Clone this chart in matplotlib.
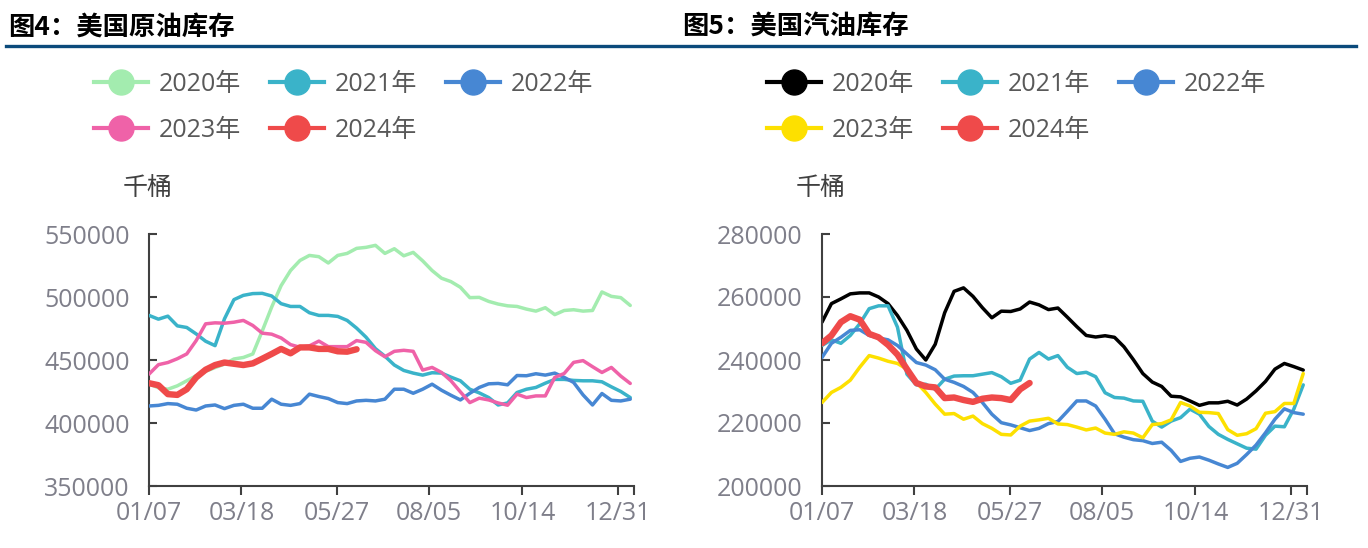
import numpy as np
import matplotlib
matplotlib.use("Agg")
import matplotlib.pyplot as plt
from matplotlib.lines import Line2D

plt.rcParams['font.family'] = ['Open Sans', 'Noto Sans CJK SC', 'DejaVu Sans']
CJK = ['Noto Sans CJK SC', 'DejaVu Sans']

# ---------------- data ----------------
x_tick_labels = ['01/07', '03/18', '05/27', '08/05', '10/14', '12/31']
years = ['2020年', '2021年', '2022年', '2023年', '2024年']

crude_2020 = [431, 428, 426.8, 429.5, 433.5, 437.5, 441, 444, 446.8, 450.8,
              452, 454.8, 473, 492, 509, 521, 529, 533, 532, 527,
              533, 534.6, 538.6, 539.4, 541, 534.6, 538.3, 532.7, 535.4, 528.7,
              521, 514.9, 512.2, 507.7, 499.5, 499.7, 496.5, 494.4, 493, 492.5,
              490.4, 488.8, 491.5, 486, 489.3, 489.9, 488.8, 489.3, 504, 500.5,
              499.5, 493.3]
crude_2021 = [485.4, 482.4, 484.8, 477.1, 475.8, 470.7, 464.9, 461.4, 482.7, 497.9,
              501.3, 502.7, 502.9, 500.8, 494.7, 492.5, 492.5, 487.5, 485.4, 485.4,
              484.6, 481.4, 475.3, 468.1, 459, 453, 446, 441.7, 439.6, 438,
              439.9, 439.6, 436.4, 433.5, 426.8, 423.9, 420.2, 414.3, 415.9, 424.2,
              426.8, 428.2, 431.6, 434.6, 434.6, 433.8, 433.5, 433.5, 432.7, 428.7,
              425, 420.2]
crude_2022 = [413.5, 414, 415.4, 414.9, 411.7, 410.3, 413.5, 414.3, 411.4, 414,
              414.9, 411.7, 411.7, 418.9, 414.9, 414, 415.4, 422.9, 421, 419.4,
              416.2, 415.4, 417.5, 418, 417.5, 418.9, 426.8, 426.8, 423.6, 426.8,
              430.8, 426, 422, 418.3, 423.6, 428.2, 431.1, 431.4, 430.3, 437.7,
              437.5, 439.1, 438, 439.6, 436.2, 432.2, 422.3, 414.3, 423.4, 418,
              417.5, 418.9]
crude_2023 = [438.8, 446.3, 448, 451, 454.8, 465.4, 478.7, 479.5, 479.2, 480,
              481.4, 477.4, 471.3, 470.5, 467.5, 462.2, 460.1, 461.2, 465, 460.6,
              460.6, 460.6, 465.4, 464, 457.4, 452.6, 456.9, 457.7, 456.9, 442,
              444.1, 440.1, 433.5, 424.7, 416.2, 419.7, 418.3, 415.9, 414.1, 422.9,
              420.2, 421.5, 421.5, 436.2, 439.3, 448.1, 449.5, 444.7, 440.1, 444.1,
              437.2, 431.4]
crude_2024 = [431.6, 430, 422.9, 422.3, 426.8, 436.2, 442.3, 446, 448, 447,
              446, 447.3, 451, 454.8, 458.8, 455.3, 460, 460, 458.8, 458.8,
              456.9, 456.6, 458.5]

gas_2020 = [252, 257.9, 259.4, 261, 261.3, 261.3, 260, 257.9, 254.1, 249.4,
            243.5, 240, 245, 255, 261.8, 262.9, 260.2, 256.6, 253.4, 255.5,
            255.4, 256.2, 258.4, 257.5, 256, 256.5, 253.6, 250.6, 247.8, 247.3,
            247.7, 247.2, 244.2, 240.1, 235.7, 233, 231.6, 228.5, 228.3, 227,
            225.6, 226.4, 226.4, 226.9, 225.7, 227.6, 230.2, 233.2, 237.1, 238.9,
            237.9, 236.8]
gas_2021 = [244.6, 246.4, 245.3, 247.8, 251.5, 256.3, 257.2, 257.2, 250.4, 235.5,
            232.1, 232.3, 230.7, 233.9, 234.9, 235, 235, 235.5, 236, 234.7,
            232.6, 233.6, 240.3, 242.4, 240.3, 241.4, 237.7, 235.7, 236.1, 234.7,
            229.6, 228.1, 227.9, 227, 226.9, 220.6, 218.7, 220.6, 221.7, 224.4,
            222.8, 218.9, 216.4, 214.8, 213.4, 212, 211.7, 216.1, 219, 218.8,
            224.4, 232.1]
gas_2022 = [240.8, 245.3, 247.2, 249.4, 249.6, 247.8, 247, 246.4, 244.6, 241.9,
            239.2, 238.4, 236.9, 233.9, 232.9, 231.6, 229.7, 226.5, 222.8, 220.1,
            219.4, 218.5, 217.6, 218.3, 219.8, 220.5, 223.7, 227, 227, 225.4,
            221.2, 216.6, 215.5, 214.7, 214.4, 213.5, 213.9, 211.3, 207.8, 208.8,
            209.2, 208.2, 207, 205.9, 207.2, 210, 213, 216.9, 221.2, 224.5,
            223.3, 222.8]
gas_2023 = [226.5, 229.7, 231.3, 233.6, 237.7, 241.4, 240.6, 239.6, 238.9, 237.1,
            232.9, 229.7, 226, 222.8, 223, 221.2, 222.2, 219.8, 218.3, 216.4,
            216.2, 219, 220.6, 221, 221.5, 219.7, 219.5, 218.7, 217.8, 218.4,
            216.8, 216.4, 217.2, 216.8, 215.3, 219.5, 219.8, 221, 226.5, 225.4,
            223.4, 223.3, 223, 217.9, 216.1, 216.6, 218.2, 223.1, 223.6, 226.2,
            226.2, 235.7]
gas_2024 = [245.3, 247.8, 252, 253.9, 252.8, 248.3, 247.2, 244.8, 241.7, 237.1,
            232.7, 231.6, 231.3, 227.9, 228.1, 227.3, 226.7, 227.7, 228.1, 227.9,
            227.3, 230.7, 232.7]

crude_colors = ['#a3ecaf', '#3ab3c9', '#4787d3', '#ef62a8', '#ef4a4a']
gas_colors = ['#000000', '#3ab3c9', '#4787d3', '#fde000', '#ef4a4a']

# ---------------- layout ----------------
W, H = 1368, 548
fig = plt.figure(figsize=(W / 100, H / 100), dpi=100)

TICK_POS = [0, 9.8, 19.88, 29.68, 39.57, 49.65]
X_END = 51.43
TICK_COLOR = '#7f7f8a'
SPINE_COLOR = '#404040'


def fx(px):
    return px / W


def fy(py):
    return 1 - py / H


def make_panel(left_px, title, series, colors, ylim, ystep, legend_x_px, title_x_px):
    ax = fig.add_axes([fx(left_px), fy(486), (634.3 - 149) / W, 252 / H])
    for k, vals in enumerate(series):
        xs = np.arange(len(vals))
        lw = 4.6 if k == 4 else 2.5
        ax.plot(xs, np.array(vals) * 1000, color=colors[k], lw=lw,
                solid_joinstyle='round', solid_capstyle='round', zorder=2 + k)
    ax.set_xlim(0, X_END)
    ax.set_ylim(*ylim)
    ax.set_xticks(TICK_POS)
    ax.set_xticklabels(x_tick_labels)
    ax.set_xticks([X_END], minor=True)
    yt = np.arange(ylim[0], ylim[1] + 1, ystep)
    ax.set_yticks(yt)
    ax.set_yticklabels([f'{int(v)}' for v in yt])
    for s in ['top', 'right']:
        ax.spines[s].set_visible(False)
    for s in ['left', 'bottom']:
        ax.spines[s].set_color(SPINE_COLOR)
        ax.spines[s].set_linewidth(1.5)
    ax.tick_params(axis='x', which='both', direction='out', length=6.5, width=1.5,
                   color=SPINE_COLOR, labelsize=18, labelcolor=TICK_COLOR, pad=4)
    ax.tick_params(axis='y', direction='in', length=6, width=1.5,
                   color=SPINE_COLOR, labelsize=18, labelcolor=TICK_COLOR, pad=14)

    # title
    fig.text(fx(title_x_px), fy(27), title, fontsize=19, fontweight='bold',
             va='center', ha='left', color='black', family=CJK)
    # y unit
    fig.text(fx(left_px - 1), fy(188), '千桶', fontsize=18, color=SPINE_COLOR,
             ha='center', va='center', family=CJK)

    handles = [Line2D([], [], color=c, lw=3, marker='o', ms=18) for c in colors]
    order = [0, 3, 1, 4, 2]
    leg = fig.legend([handles[i] for i in order], [years[i] for i in order],
                     ncol=3, loc='upper left',
                     bbox_to_anchor=(fx(legend_x_px), fy(72)),
                     frameon=False, fontsize=18, handlelength=2.16,
                     handletextpad=0.44, columnspacing=1.15, labelspacing=0.82,
                     borderpad=0, borderaxespad=0)
    for t in leg.get_texts():
        t.set_color('#595959')
    return ax


make_panel(149, '图4：美国原油库存',
           [crude_2020, crude_2021, crude_2022, crude_2023, crude_2024],
           crude_colors, (350000, 550000), 50000, 94, 8)
make_panel(822, '图5：美国汽油库存',
           [gas_2020, gas_2021, gas_2022, gas_2023, gas_2024],
           gas_colors, (200000, 280000), 20000, 767, 682)

fig.add_artist(Line2D([fx(6), fx(1356)], [fy(46), fy(46)], transform=fig.transFigure,
                      color='#0b4a7b', lw=2.4))

fig.savefig('out.png', dpi=100)
